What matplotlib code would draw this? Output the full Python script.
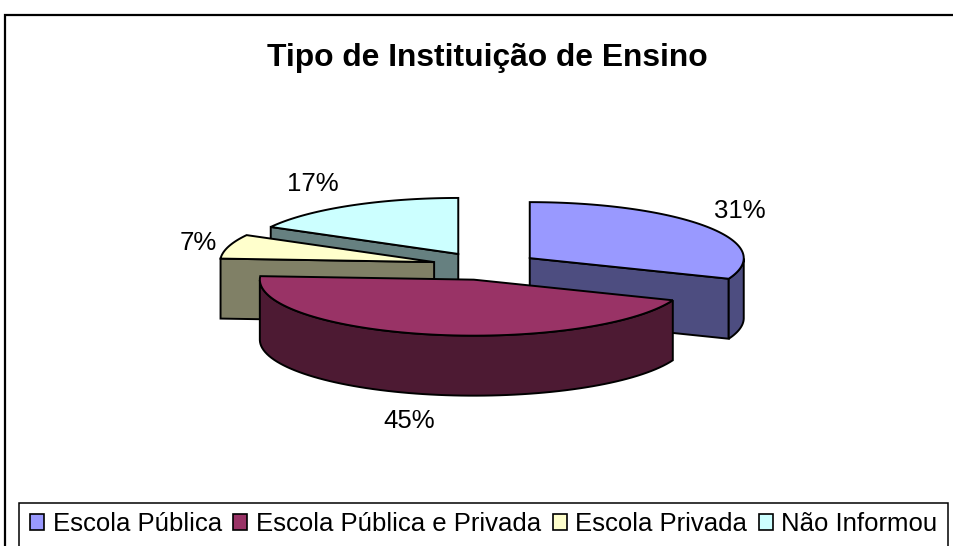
import numpy as np
import matplotlib
matplotlib.use('Agg')
import matplotlib.pyplot as plt
from matplotlib.patches import Polygon, Rectangle

plt.rcParams['font.family'] = ['Liberation Sans', 'DejaVu Sans']

titulo = 'Tipo de Instituição de Ensino'
categorias = ['Escola Pública', 'Escola Pública e Privada', 'Escola Privada', 'Não Informou']
valores = [31, 45, 7, 17]
cores_topo = ['#9999FF', '#993366', '#FFFFCC', '#CCFFFF']
cores_lado = ['#4D4D80', '#4D1A33', '#808066', '#668080']
# posicao dos rotulos em pixels
rotulos_xy = [(740, 211), (409, 421), (198, 243), (313, 184)]

cx, cy = 485.5, 266
rx, ry = 214, 56
prof = 60
explode = 0.25


def ponto(ang, ox, oy):
    a = np.radians(ang)
    return ox + rx * np.sin(a), oy - ry * np.cos(a)


fig = plt.figure(figsize=(9.54, 5.46), dpi=100)
ax = fig.add_axes([0, 0, 1, 1])
ax.set_xlim(0, 954)
ax.set_ylim(546, 0)
ax.axis('off')

# moldura externa e caixa da legenda passam da borda da imagem
ax.add_patch(Rectangle((5.5, 14.5), 960, 540, fc='white', ec='black', lw=1.6))
ax.add_patch(Rectangle((19.5, 503), 929, 60, fc='white', ec='black', lw=1.1))

total = sum(valores)
limites = np.concatenate([[0], np.cumsum(valores) / total * 360])
fatias = []
for i in range(len(valores)):
    a0, a1 = limites[i], limites[i + 1]
    meio = (a0 + a1) / 2
    ox, oy = ponto(meio, cx, cy)
    ox = cx + explode * (ox - cx)
    oy = cy + explode * (oy - cy)
    fatias.append((i, a0, a1, ox, oy))

lw = 1.4
# ordem de desenho: de tras para frente
for i, a0, a1, ox, oy in [fatias[3], fatias[2], fatias[0], fatias[1]]:
    angs = np.linspace(a0, a1, 80)
    xs, ys = ponto(angs, ox, oy)
    # faces de corte, so as voltadas para frente
    for a, visivel in ((a0, 180 < a0 < 360), (a1, 0 < a1 < 180)):
        if not visivel:
            continue
        px, py = ponto(a, ox, oy)
        ax.add_patch(Polygon([(ox, oy), (px, py), (px, py + prof), (ox, oy + prof)],
                             fc=cores_lado[i], ec='black', lw=lw))
    # parede externa
    vis = (angs >= 90) & (angs <= 270)
    if vis.any():
        fx, fy = xs[vis], ys[vis]
        contorno = np.column_stack([np.r_[fx, fx[::-1]], np.r_[fy, fy[::-1] + prof]])
        ax.add_patch(Polygon(contorno, fc=cores_lado[i], ec='black', lw=lw))
    topo = np.column_stack([np.r_[ox, xs], np.r_[oy, ys]])
    ax.add_patch(Polygon(topo, fc=cores_topo[i], ec='black', lw=lw))

ax.text(487, 58, titulo, fontsize=22.9, fontweight='bold', ha='center', va='center')

for v, (x, y) in zip(valores, rotulos_xy):
    ax.text(x, y, '%d%%' % v, fontsize=18.5, ha='center', va='center')

handles = [Rectangle((0, 0), 1, 1, fc=c, ec='black', lw=1.2) for c in cores_topo]
leg = ax.legend(handles, categorias, ncol=4, loc='upper left',
                bbox_to_anchor=(21 / 954, 1 - 503 / 546), bbox_transform=fig.transFigure,
                fontsize=18.5, frameon=False,
                handlelength=0.55, handleheight=0.55, handletextpad=0.33, columnspacing=0.45,
                borderpad=0.35, borderaxespad=0)

fig.savefig('out.png', dpi=100)
